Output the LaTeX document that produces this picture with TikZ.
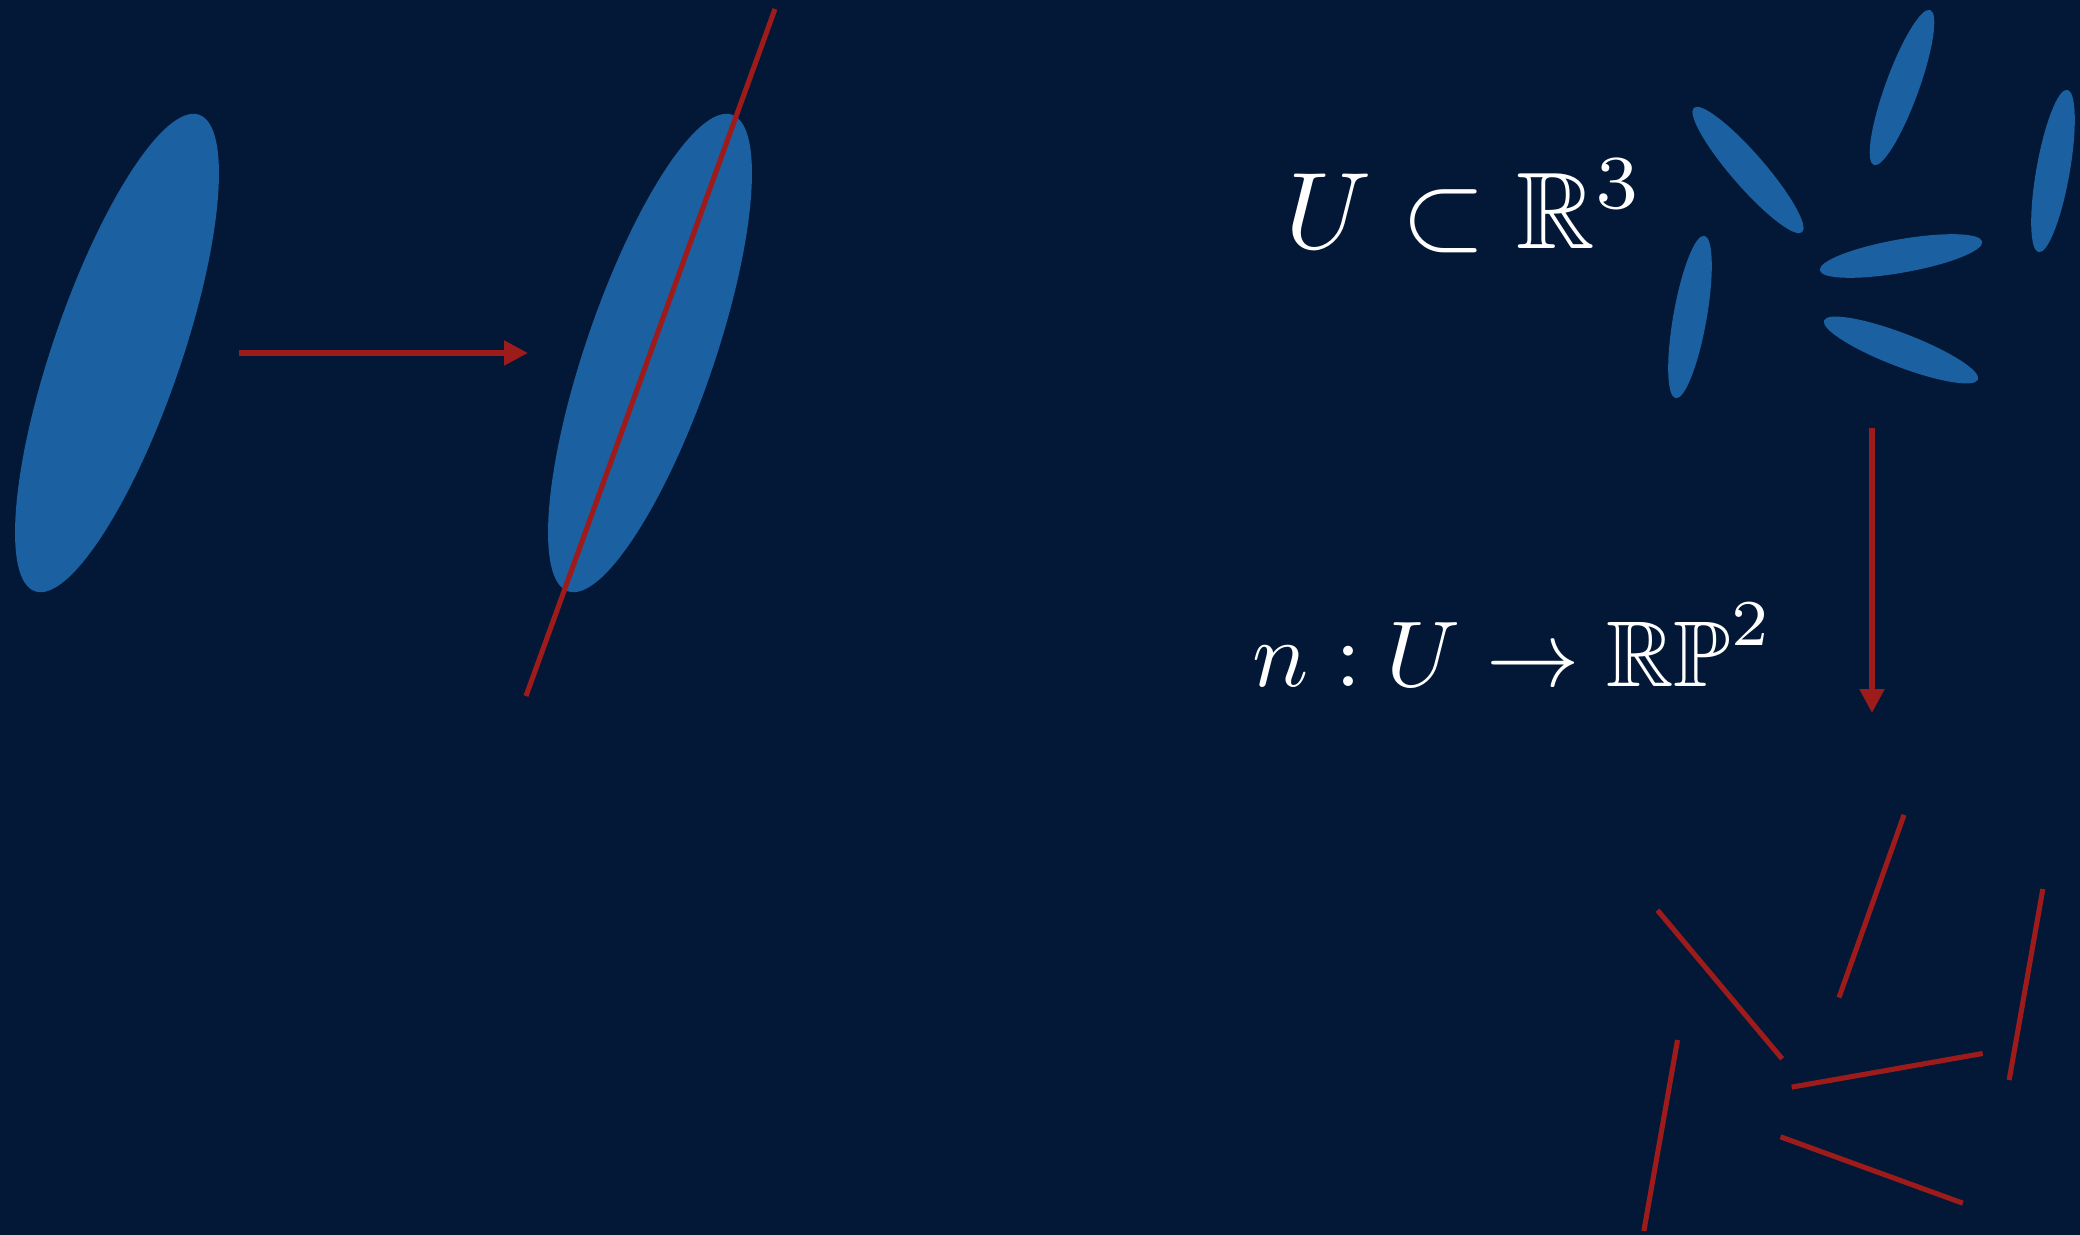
\documentclass[tikz,border=0pt]{standalone}
\usepackage{amsmath}
\usepackage{amssymb}
\usepackage{tikz}
\usetikzlibrary{arrows.meta}
\definecolor{navy}{RGB}{2,24,54}
\definecolor{darkred}{RGB}{158,27,27}
\definecolor{blobblue}{RGB}{27,96,160}

\begin{document}
\begin{tikzpicture}[
		blob/.style={fill=blobblue},
		stick/.style={darkred, line width=1.45pt},
		maparrow/.style={darkred, line width=1.5pt, -{Triangle[length=6.8pt, width=6.8pt]}},
		mathtext/.style={white, inner sep=0pt, anchor=base, transform shape}
	]
		
		% background
		\fill[navy] (0,0) rectangle (20.8,-12.35);
		\useasboundingbox (0,0) rectangle (20.8,-12.35);
		
		% big ellipse, before and after
		\fill[blob, shift={(1.17,-3.53)}, rotate=71] (0,0) ellipse (2.52 and 0.64);
		\fill[blob, shift={(6.50,-3.53)}, rotate=71] (0,0) ellipse (2.52 and 0.64);
		
		% its axis
		\coordinate (axbot) at (5.26,-6.96);
		\coordinate (axtop) at (7.75,-0.09);
		\draw[stick] (axbot) -- (axtop);
		
		% arrow between them
		\coordinate (hstart) at (2.39,-3.53);
		\coordinate (hend) at (5.28,-3.53);
		\draw[maparrow] (hstart) -- (hend);
		
		% small ellipses
		\fill[blob, shift={(19.02,-0.875)}, rotate=70] (0,0) ellipse (0.825 and 0.167);
		\fill[blob, shift={(17.48,-1.70)}, rotate=131] (0,0) ellipse (0.825 and 0.167);
		\fill[blob, shift={(20.53,-1.71)}, rotate=80] (0,0) ellipse (0.825 and 0.167);
		\fill[blob, shift={(16.90,-3.17)}, rotate=80] (0,0) ellipse (0.825 and 0.167);
		\fill[blob, shift={(19.01,-2.56)}, rotate=10] (0,0) ellipse (0.825 and 0.167);
		\fill[blob, shift={(19.01,-3.50)}, rotate=-21] (0,0) ellipse (0.825 and 0.167);
		
		% texts
		\node[mathtext, scale=3.1] (incl) at (14.65,-2.485) {$U \subset \mathbb{R}^3$};
		\node[mathtext, scale=2.66] (gauss) at (15.13,-6.867) {$n : U \to \mathbb{RP}^2$};
		
		% downward arrow
		\coordinate (vstart) at (18.72,-4.28);
		\coordinate (vend) at (18.72,-7.13);
		\draw[maparrow] (vstart) -- (vend);
		
		% lines
		\draw[stick, shift={(18.715,-9.062)}, rotate=70.4] (-0.97,0) -- (0.97,0);
		\draw[stick, shift={(17.198,-9.845)}, rotate=130] (-0.97,0) -- (0.97,0);
		\draw[stick, shift={(20.26,-9.845)}, rotate=80] (-0.97,0) -- (0.97,0);
		\draw[stick, shift={(16.607,-11.355)}, rotate=80] (-0.97,0) -- (0.97,0);
		\draw[stick, shift={(18.872,-10.703)}, rotate=10] (-0.97,0) -- (0.97,0);
		\draw[stick, shift={(18.717,-11.70)}, rotate=-20] (-0.97,0) -- (0.97,0);
		
	\end{tikzpicture}
\end{document}
